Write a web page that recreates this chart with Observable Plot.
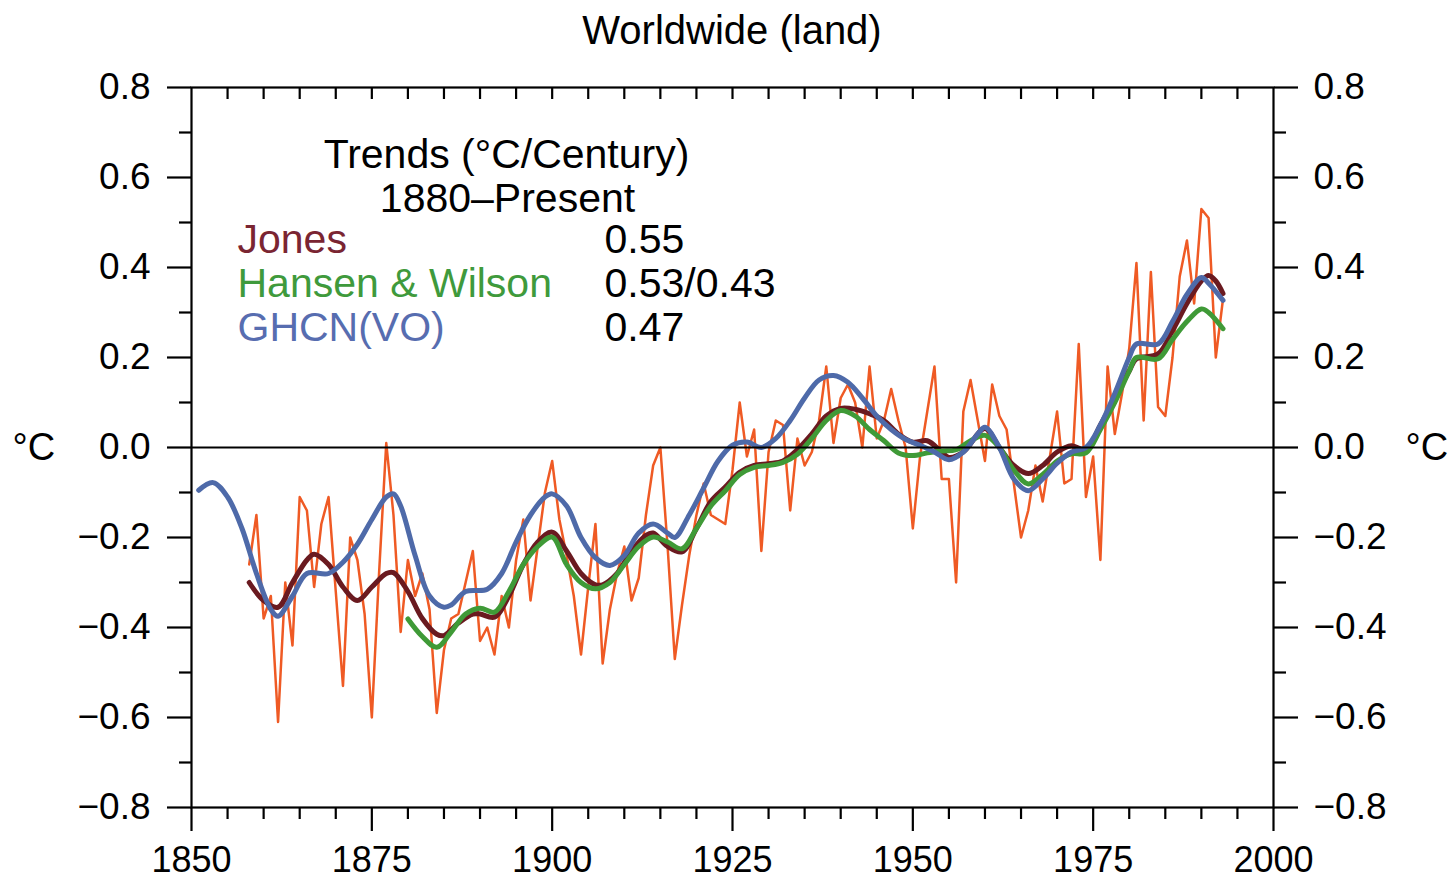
<!DOCTYPE html>
<html><head><meta charset="utf-8">
<script src="https://cdn.jsdelivr.net/npm/d3@7"></script>
<script src="https://cdn.jsdelivr.net/npm/@observablehq/plot@0.6"></script>
<style>
body{margin:0;background:#fff;}
#wrap{position:relative;width:1454px;height:881px;overflow:hidden;}
#chart{position:absolute;left:0;top:0;}
#title{position:absolute;left:191px;width:1082px;top:10px;text-align:center;font-family:"Liberation Sans",Arial,sans-serif;font-size:40px;line-height:40px;color:#000;}
</style></head><body>
<div id="wrap"><div id="chart"></div><div id="title">Worldwide (land)</div></div>
<script>
// ---- data ----
const annualStart = 1858;
const annualAnom = [
  -0.26, -0.15,
  -0.38, -0.33, -0.61, -0.30, -0.44, -0.11, -0.14, -0.31, -0.17, -0.11,
  -0.32, -0.53, -0.20, -0.25, -0.37, -0.60, -0.28, 0.01, -0.15, -0.41,
  -0.25, -0.33, -0.28, -0.36, -0.59, -0.45, -0.38, -0.37, -0.30, -0.23,
  -0.43, -0.40, -0.46, -0.33, -0.40, -0.25, -0.16, -0.34, -0.22, -0.10,
  -0.03, -0.16, -0.24, -0.33, -0.46, -0.31, -0.17, -0.48, -0.36, -0.28,
  -0.22, -0.34, -0.29, -0.15, -0.04, 0.00, -0.22, -0.47, -0.35, -0.24,
  -0.15, -0.08, -0.15, -0.16, -0.17, -0.05, 0.10, -0.02, 0.04, -0.23,
  -0.01, 0.06, 0.05, -0.14, 0.02, -0.04, -0.01, 0.06, 0.18, 0.01,
  0.11, 0.14, 0.10, 0.00, 0.18, 0.02, 0.06, 0.13, 0.06, 0.00,
  -0.18, -0.02, 0.08, 0.18, -0.07, -0.07, -0.30, 0.08, 0.15, 0.06,
  -0.03, 0.14, 0.07, 0.04, -0.08, -0.20, -0.14, -0.04, -0.12, -0.02,
  0.08, -0.08, -0.07, 0.23, -0.11, -0.02, -0.25, 0.18, 0.03, 0.12,
  0.22, 0.41, 0.06, 0.39, 0.09, 0.07, 0.20, 0.38, 0.46, 0.32,
  0.53, 0.51, 0.20, 0.33
];
const jonesSmooth = [
  [1858,-0.30],[1860,-0.34],[1862,-0.355],[1864,-0.30],[1866,-0.25],[1867,-0.237],[1869,-0.26],
  [1871,-0.31],[1873,-0.34],[1875,-0.31],[1877,-0.28],[1878,-0.278],[1880,-0.32],[1882,-0.38],
  [1884,-0.415],[1885,-0.418],[1887,-0.39],[1889,-0.37],[1890,-0.37],[1892,-0.377],[1894,-0.33],
  [1896,-0.26],[1898,-0.21],[1900,-0.188],[1902,-0.23],[1904,-0.28],[1906,-0.305],[1907,-0.305],
  [1909,-0.28],[1911,-0.23],[1913,-0.195],[1914,-0.19],[1916,-0.22],[1918,-0.232],[1920,-0.18],
  [1922,-0.12],[1924,-0.088],[1926,-0.055],[1928,-0.04],[1930,-0.036],[1932,-0.03],[1934,-0.005],
  [1936,0.03],[1938,0.07],[1940,0.087],[1942,0.085],[1944,0.075],[1946,0.06],[1948,0.03],
  [1950,0.012],[1952,0.015],[1954,-0.01],[1955,-0.022],[1957,-0.01],[1960,0.042],[1962,0.0],
  [1964,-0.04],[1966,-0.058],[1968,-0.04],[1970,-0.01],[1972,0.004],[1974,-0.005],[1976,0.05],
  [1978,0.11],[1980,0.17],[1981,0.197],[1984,0.208],[1986,0.26],[1988,0.32],[1990,0.37],
  [1991,0.382],[1992,0.37],[1993,0.342]
];
const hansenSmooth = [
  [1880,-0.381],[1882,-0.42],[1884,-0.444],[1886,-0.41],[1888,-0.37],[1890,-0.357],[1892,-0.366],
  [1894,-0.32],[1896,-0.26],[1898,-0.22],[1900,-0.199],[1902,-0.26],[1904,-0.30],[1906,-0.314],
  [1908,-0.30],[1910,-0.26],[1912,-0.22],[1914,-0.199],[1916,-0.21],[1918,-0.225],[1920,-0.18],
  [1922,-0.13],[1924,-0.096],[1926,-0.06],[1928,-0.044],[1930,-0.04],[1932,-0.033],[1934,-0.015],
  [1936,0.02],[1938,0.06],[1940,0.082],[1942,0.07],[1944,0.04],[1946,0.015],[1948,-0.012],
  [1950,-0.018],[1952,-0.012],[1954,-0.008],[1956,-0.005],[1958,0.015],[1960,0.027],[1962,0.0],
  [1964,-0.05],[1966,-0.081],[1968,-0.06],[1970,-0.03],[1972,-0.014],[1974,-0.012],[1976,0.04],
  [1978,0.10],[1980,0.17],[1981,0.20],[1984,0.197],[1986,0.24],[1988,0.28],[1990,0.308],
  [1991,0.30],[1993,0.264]
];
const ghcnSmooth = [
  [1851,-0.095],[1853,-0.078],[1855,-0.11],[1857,-0.18],[1859,-0.28],[1861,-0.36],[1862,-0.375],
  [1864,-0.33],[1866,-0.28],[1869,-0.28],[1871,-0.255],[1873,-0.215],[1875,-0.16],[1877,-0.11],
  [1878,-0.103],[1879,-0.13],[1881,-0.24],[1883,-0.33],[1885,-0.355],[1886,-0.35],[1888,-0.32],
  [1891,-0.315],[1893,-0.28],[1895,-0.21],[1897,-0.15],[1899,-0.11],[1900,-0.103],[1902,-0.13],
  [1904,-0.20],[1906,-0.245],[1908,-0.262],[1910,-0.24],[1912,-0.19],[1914,-0.17],[1916,-0.19],
  [1917,-0.20],[1919,-0.15],[1921,-0.09],[1923,-0.03],[1925,0.005],[1927,0.012],[1929,0.0],
  [1931,0.02],[1933,0.06],[1935,0.11],[1937,0.15],[1939,0.16],[1941,0.145],[1943,0.11],
  [1945,0.07],[1947,0.04],[1949,0.018],[1951,0.005],[1953,-0.01],[1955,-0.027],[1957,-0.01],
  [1959,0.03],[1960,0.045],[1962,0.0],[1964,-0.07],[1966,-0.096],[1968,-0.07],[1970,-0.035],
  [1972,-0.01],[1974,0.0],[1976,0.05],[1978,0.12],[1980,0.20],[1981,0.23],[1984,0.23],
  [1986,0.28],[1988,0.34],[1990,0.378],[1991,0.365],[1993,0.327]
];
const xMajorTicks = [1850, 1875, 1900, 1925, 1950, 1975, 2000];
const xMinorTicks = [1855,1860,1865,1870,1880,1885,1890,1895,1905,1910,1915,1920,1930,1935,1940,1945,1955,1960,1965,1970,1980,1985,1990,1995];
const xTopTicks = [1855,1860,1865,1870,1875,1880,1885,1890,1895,1900,1905,1910,1915,1920,1925,1930,1935,1940,1945,1950,1955,1960,1965,1970,1975,1980,1985,1990,1995];
const yMajorTicks = [-0.8, -0.6, -0.4, -0.2, 0, 0.2, 0.4, 0.6, 0.8];
const yMinorTicks = [-0.7, -0.5, -0.3, -0.1, 0.1, 0.3, 0.5, 0.7];
const legendHeader = ["Trends (\u00B0C/Century)", "1880\u2013Present"];
const seriesNames = ["Jones", "Hansen & Wilson", "GHCN(VO)"];
const seriesTrends = ["0.55", "0.53/0.43", "0.47"];
const unitLabel = "\u00B0C";

// ---- build ----
const annual = annualAnom.map((v, i) => ({year: annualStart + i, anom: v}));
const toRows = arr => arr.map(([year, anom]) => ({year, anom}));
const colors = {orange: "#ef5a24", jones: "#6a1a20", hansen: "#3f9a37", ghcn: "#4e6aa9"};
const textColors = ["#7a2532", "#3f9a3c", "#576db0"];
const font = "Liberation Sans, Arial, Helvetica, sans-serif";
const yFmt = d => (d < 0 ? "\u2212" : "") + Math.abs(d).toFixed(1);

const chart = Plot.plot({
  width: 1454, height: 881,
  marginLeft: 191, marginRight: 181, marginTop: 87, marginBottom: 74,
  style: {fontFamily: font, color: "black", background: "white"},
  x: {domain: [1850, 2000], label: null},
  y: {domain: [-0.8, 0.8], label: null},
  marks: [
    Plot.line(annual, {x: "year", y: "anom", stroke: colors.orange, strokeWidth: 2.5}),
    Plot.line(toRows(jonesSmooth), {x: "year", y: "anom", curve: "catmull-rom", stroke: colors.jones, strokeWidth: 5}),
    Plot.line(toRows(hansenSmooth), {x: "year", y: "anom", curve: "catmull-rom", stroke: colors.hansen, strokeWidth: 5}),
    Plot.line(toRows(ghcnSmooth), {x: "year", y: "anom", curve: "catmull-rom", stroke: colors.ghcn, strokeWidth: 5}),
    Plot.ruleY([0], {stroke: "black", strokeWidth: 2}),
    Plot.frame({stroke: "black", strokeWidth: 2.2}),
    Plot.axisX(xMajorTicks, {anchor: "bottom", tickSize: 24, tickPadding: 15, tickFormat: d => String(d), fontSize: 36, strokeWidth: 2.2}),
    Plot.axisX(xMinorTicks, {anchor: "bottom", tickSize: 12, fill: "none", strokeWidth: 2.2}),
    Plot.tickX(xTopTicks, {x: d => d, insetBottom: 708, stroke: "black", strokeWidth: 2.2}),
    Plot.axisY(yMajorTicks, {anchor: "left", tickSize: 24, tickPadding: 17, tickFormat: yFmt, fontSize: 37, strokeWidth: 2.2}),
    Plot.axisY(yMinorTicks, {anchor: "left", tickSize: 12, fill: "none", strokeWidth: 2.2}),
    Plot.axisY(yMajorTicks, {anchor: "right", tickSize: 24, tickPadding: 16, tickFormat: yFmt, fontSize: 37, strokeWidth: 2.2}),
    Plot.axisY(yMinorTicks, {anchor: "right", tickSize: 12, fill: "none", strokeWidth: 2.2}),
    Plot.text([unitLabel], {frameAnchor: "left", dx: -179, textAnchor: "start", lineAnchor: "middle", fontSize: 38, fill: "black"}),
    Plot.text([unitLabel], {frameAnchor: "right", dx: 132, textAnchor: "start", lineAnchor: "middle", fontSize: 38, fill: "black"}),
    Plot.text([legendHeader[0]], {frameAnchor: "top-left", dx: 315, dy: 80, textAnchor: "middle", lineAnchor: "bottom", fontSize: 41, fill: "black"}),
    Plot.text([legendHeader[1]], {frameAnchor: "top-left", dx: 316, dy: 124, textAnchor: "middle", lineAnchor: "bottom", fontSize: 41, fill: "black"}),
    ...seriesNames.map((name, i) => Plot.text([name], {frameAnchor: "top-left", dx: 46, dy: 165 + 44 * i, textAnchor: "start", lineAnchor: "bottom", fontSize: 41, fill: textColors[i]})),
    ...seriesTrends.map((t, i) => Plot.text([t], {frameAnchor: "top-left", dx: 413, dy: 165 + 44 * i, textAnchor: "start", lineAnchor: "bottom", fontSize: 41, fill: "black"}))
  ]
});
document.getElementById("chart").appendChild(chart);
</script>
</body></html>
